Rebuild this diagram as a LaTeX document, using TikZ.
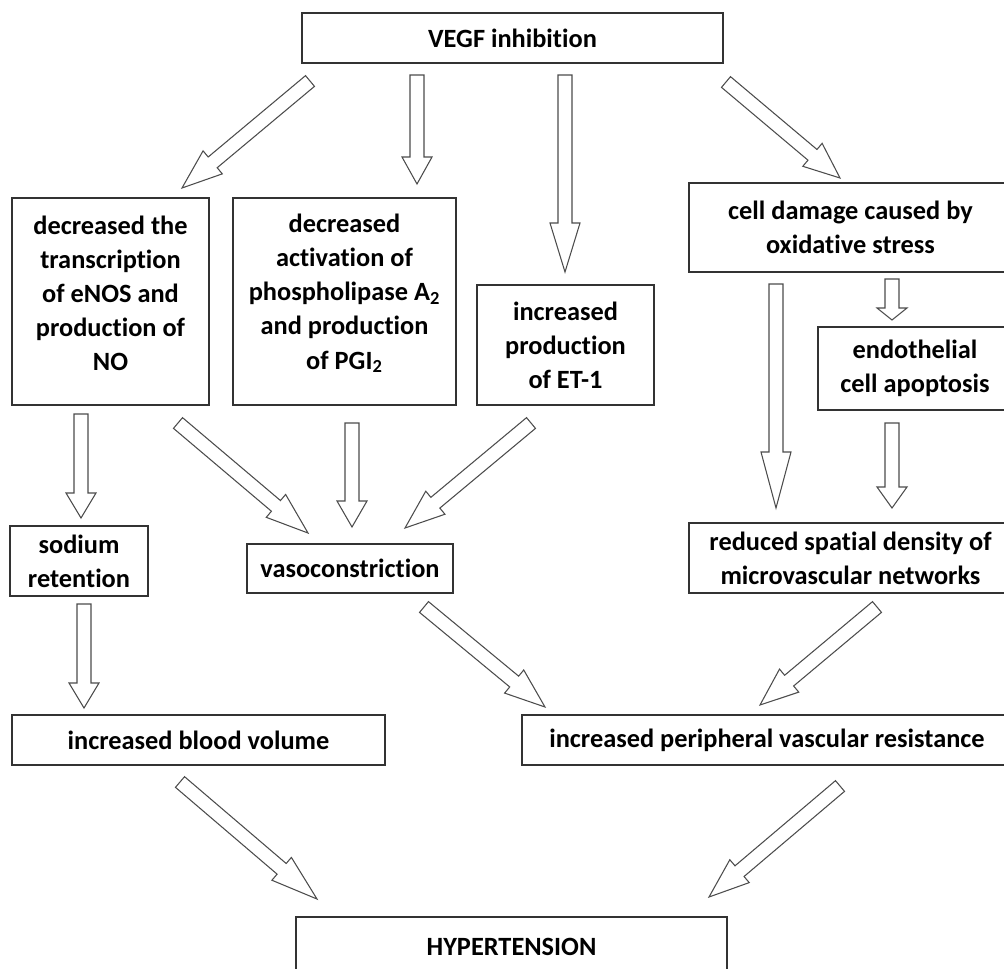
\documentclass[tikz,border=0pt]{standalone}
\usepackage{fontspec}
\setmainfont{Carlito}[Ligatures=NoCommon]
\usetikzlibrary{calc}

% hollow block arrow from tail #2 to tip #3, head length #1
\newcommand{\blockarrow}[3][0.5cm]{%
  \coordinate (hb) at ($(#3)!#1!(#2)$);
  \draw[barrow] ($(#2)!0.14cm!90:(#3)$) -- ($(hb)!0.14cm!90:(#3)$) -- ($(hb)!0.3cm!90:(#3)$) -- (#3)
    -- ($(hb)!0.3cm!-90:(#3)$) -- ($(hb)!0.14cm!-90:(#3)$) -- ($(#2)!0.14cm!-90:(#3)$) -- cycle;
}

\begin{document}
\begin{tikzpicture}[x=0.02cm, y=-0.02cm,
    boxtext/.style={inner sep=0pt, align=center, font=\fontsize{15}{19.4}\selectfont\bfseries},
    box/.style={boxtext, draw=black!80, line width=0.8pt},
    barrow/.style={draw=black!70, line width=0.6pt, fill=white, line join=miter}]
    \useasboundingbox (0,0) rectangle (1004,968);
    \clip (0,0) rectangle (1004,968);

    \node[box, line width=1.4pt, minimum width=8.42cm, minimum height=1cm] (vegf) at (512.5,38) {VEGF inhibition};
    \node[box, minimum width=3.94cm, minimum height=4.14cm,
      label={[boxtext, yshift=0.16cm]center:{decreased the\\transcription\\of eNOS and\\production of\\NO}}] (trans) at (110.5,301.5) {};
    \node[box, minimum width=4.46cm, minimum height=4.14cm,
      label={[boxtext, yshift=0.16cm]center:{decreased\\activation of\\phospholipase A\textsubscript{2}\\and production\\of PGI\textsubscript{2}}}] (phos) at (344.5,301.5) {};
    \node[box, minimum width=3.54cm, minimum height=2.4cm] (et) at (565.5,345) {increased\\production\\of ET-1};
    \node[box, minimum width=6.46cm, minimum height=1.78cm] (oxid) at (850.5,227.5) {cell damage caused by\\oxidative stress};
    \node[box, minimum width=3.88cm, minimum height=1.66cm] (apop) at (915,368.5) {endothelial\\cell apoptosis};
    \node[box, minimum width=2.76cm, minimum height=1.4cm] (sodium) at (79,561) {sodium\\retention};
    \node[box, minimum width=4.12cm, minimum height=0.98cm] (vaso) at (350,568.5) {vasoconstriction};
    \node[box, minimum width=6.46cm, minimum height=1.4cm] (density) at (850.5,558) {reduced spatial density of\\microvascular networks};
    \node[box, minimum width=7.46cm, minimum height=1cm] (volume) at (198.5,740) {increased blood volume};
    \node[box, minimum width=9.8cm, minimum height=1cm] (resist) at (767,740) {increased peripheral vascular resistance};
    \node[box, line width=1.4pt, minimum width=8.62cm, minimum height=1.2cm] (hyper) at (511.5,947) {HYPERTENSION};

    % arrow ends
    \coordinate (t1) at (310,81);   \coordinate (h1) at (182,188);
    \coordinate (t2) at (417,75);   \coordinate (h2) at (417,184);
    \coordinate (t3) at (565,75);   \coordinate (h3) at (565,272);
    \coordinate (t4) at (726,82);   \coordinate (h4) at (840,178);
    \coordinate (t5) at (892,279);  \coordinate (h5) at (892,320);
    \coordinate (t6) at (776,284);  \coordinate (h6) at (776,508);
    \coordinate (t7) at (892,423);  \coordinate (h7) at (892,508);
    \coordinate (t8) at (81,414);   \coordinate (h8) at (81,518);
    \coordinate (t9) at (178,423);  \coordinate (h9) at (308,533);
    \coordinate (t10) at (352,423); \coordinate (h10) at (352,527);
    \coordinate (t11) at (531,423); \coordinate (h11) at (405,528);
    \coordinate (t12) at (84,604);  \coordinate (h12) at (84,708);
    \coordinate (t13) at (424,607); \coordinate (h13) at (545,707);
    \coordinate (t14) at (877,607); \coordinate (h14) at (760,705);
    \coordinate (t15) at (180,782); \coordinate (h15) at (317,899);
    \coordinate (t16) at (840,786); \coordinate (h16) at (709,897);

    \foreach \i/\l in {1/0.8cm, 2/0.54cm, 3/0.98cm, 4/0.72cm, 5/0.24cm, 6/1.12cm, 7/0.42cm, 8/0.5cm,
        9/0.84cm, 10/0.52cm, 11/0.79cm, 12/0.5cm, 13/0.8cm, 14/0.76cm, 15/0.93cm, 16/0.8cm}
      \blockarrow[\l]{t\i}{h\i};
\end{tikzpicture}
\end{document}
